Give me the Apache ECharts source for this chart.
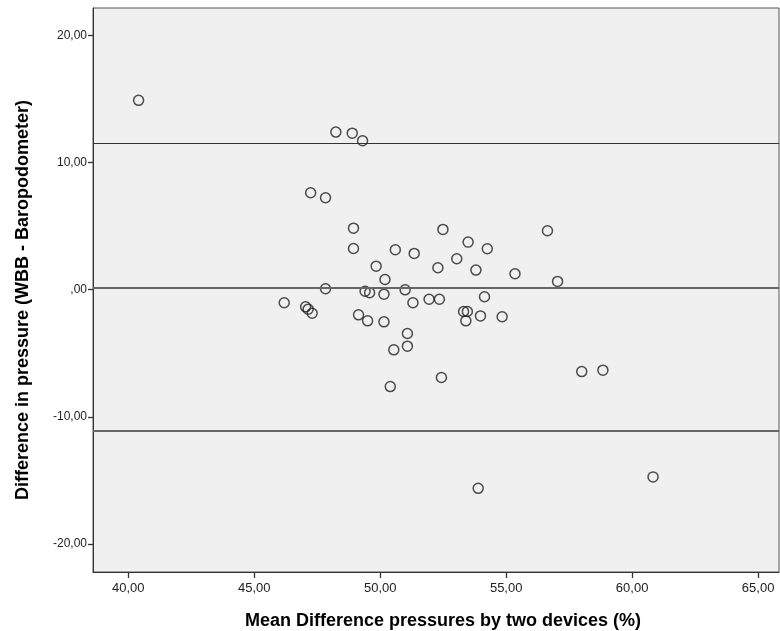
<!DOCTYPE html>
<html>
<head>
<meta charset="utf-8">
<script src="https://cdn.jsdelivr.net/npm/echarts@6/dist/echarts.min.js"></script>
<style>
html,body{margin:0;padding:0;background:#fff;}
#chart{width:780px;height:631px;}
</style>
</head>
<body>
<div id="chart"></div>
<script>
// Data
var meanValues = [40.41,48.24,48.89,49.30,47.24,47.83,48.94,48.94,50.60,51.35,49.84,50.19,52.49,56.64,53.49,54.25,53.04,52.29,53.80,55.35,57.04,47.83,49.40,49.58,50.15,50.99,46.19,47.04,47.14,47.30,51.30,51.94,52.35,54.14,53.31,53.46,53.40,53.98,54.84,49.14,49.50,50.15,51.08,51.08,50.54,50.40,52.43,58.00,58.84,60.83,53.89];
var diffValues = [14.89,12.39,12.31,11.71,7.62,7.23,4.84,3.24,3.14,2.85,1.85,0.80,4.74,4.63,3.74,3.22,2.43,1.72,1.54,1.25,0.65,0.07,-0.12,-0.24,-0.35,-0.01,-1.03,-1.35,-1.53,-1.85,-1.03,-0.75,-0.75,-0.56,-1.72,-1.72,-2.45,-2.06,-2.13,-1.98,-2.45,-2.53,-3.45,-4.44,-4.73,-7.62,-6.91,-6.44,-6.33,-14.72,-15.62];
var meanLine = 0.18;
var upperLimit = 11.53;
var lowerLimit = -11.08;
var xTicks = [40,45,50,55,60,65];
var yTicks = [-20,-10,0,10,20];

function fmt(v){
  var s = Math.abs(v).toFixed(2).replace('.', ',');
  if (Math.abs(v) < 1) s = s.replace(/^0/, '');
  return (v < 0 ? '-' : '') + s;
}

var points = meanValues.map(function(x,i){ return [x, diffValues[i]]; });

var chart = echarts.init(document.getElementById('chart'), null, {renderer:'canvas'});
chart.setOption({
  animation:false,
  backgroundColor:'#ffffff',
  grid:{left:93,top:8,right:1,bottom:59,containLabel:false,outerBoundsMode:'none',show:true,backgroundColor:'#F0F0F0',borderColor:'#555',borderWidth:1},
  xAxis:{
    type:'value', min:38.6, max:65.83,
    name:'Mean Difference pressures by two devices (%)',
    nameLocation:'middle', nameGap:40,
    nameTextStyle:{fontFamily:'Liberation Sans',fontWeight:'bold',fontSize:18,color:'#000',padding:[0,0,0,14]},
    splitLine:{show:false},
    axisLine:{show:true,onZero:false,lineStyle:{color:'#333',width:1}},
    axisTick:{show:true,length:6,lineStyle:{color:'#333',width:1.3},customValues:xTicks},
    axisLabel:{customValues:xTicks,formatter:fmt,fontFamily:'Liberation Sans',fontSize:13,color:'#222',margin:10}
  },
  yAxis:{
    type:'value', min:-22.2, max:22.15,
    name:'Difference in pressure (WBB - Baropodometer)',
    nameLocation:'middle', nameGap:61,
    nameTextStyle:{fontFamily:'Liberation Sans',fontWeight:'bold',fontSize:18,color:'#000',padding:[0,20,0,0]},
    splitLine:{show:false},
    axisLine:{show:true,onZero:false,lineStyle:{color:'#333',width:1}},
    axisTick:{show:true,length:5,lineStyle:{color:'#333',width:1.3},customValues:yTicks},
    axisLabel:{customValues:yTicks,formatter:fmt,fontFamily:'Liberation Sans',fontSize:12,color:'#222',margin:6}
  },
  series:[{
    type:'scatter',
    data:points,
    symbol:'circle',
    symbolSize:10,
    itemStyle:{color:'rgba(0,0,0,0)',borderColor:'#222',borderWidth:1.5},
    markLine:{
      silent:true,
      symbol:['none','none'],
      label:{show:false},
      data:[
        {yAxis:upperLimit,lineStyle:{color:'#333',width:1.2,type:'solid'}},
        {yAxis:meanLine,lineStyle:{color:'#666',width:1.8,type:'solid'}},
        {yAxis:lowerLimit,lineStyle:{color:'#666',width:1.8,type:'solid'}}
      ]
    }
  }]
});
</script>
</body>
</html>
